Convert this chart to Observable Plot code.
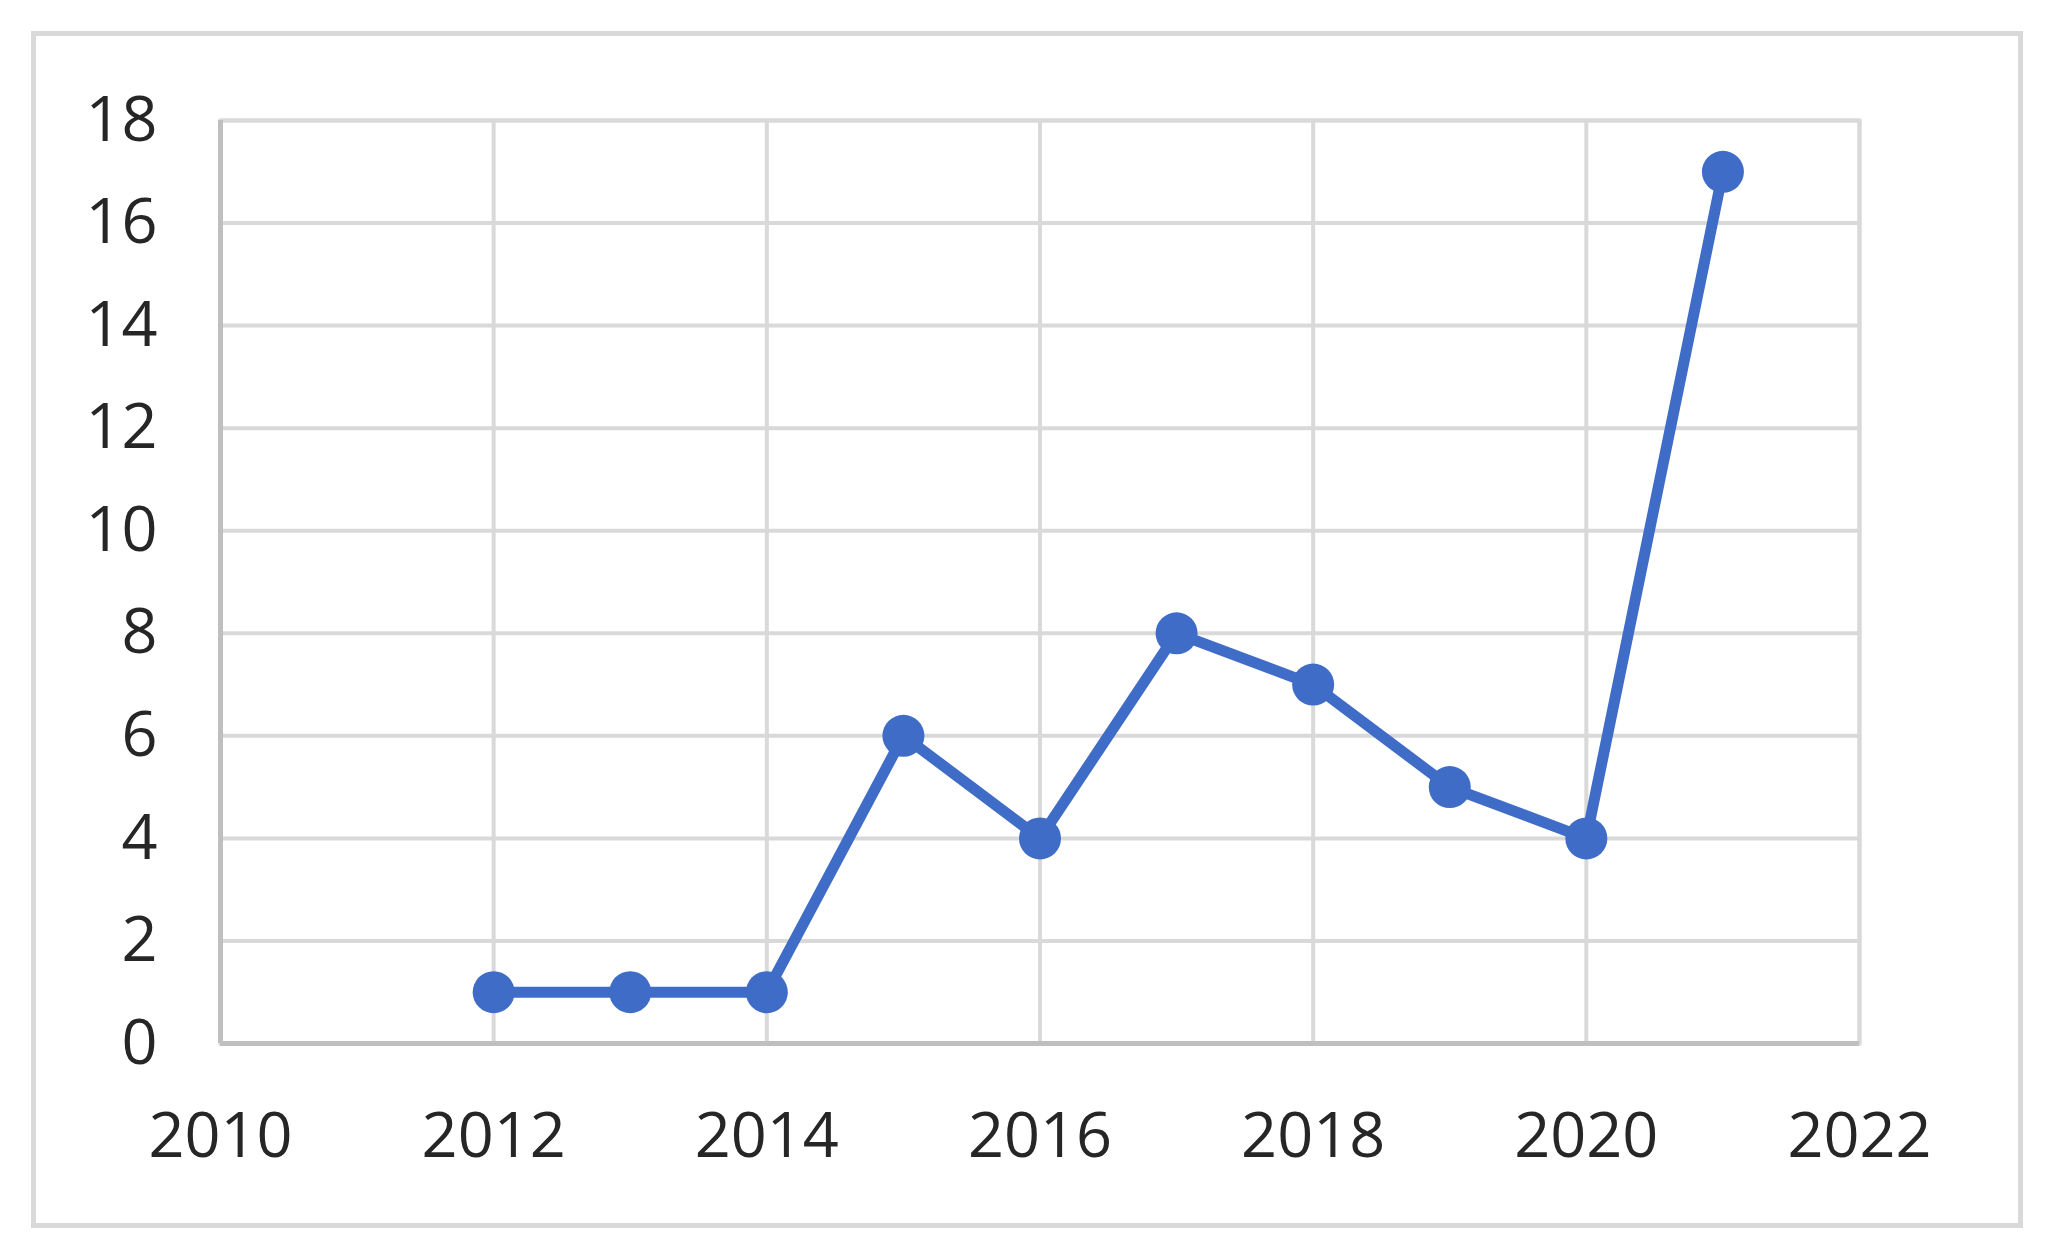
<!DOCTYPE html>
<html>
<head>
<meta charset="utf-8">
<script src="https://cdn.jsdelivr.net/npm/d3@7"></script>
<script src="https://cdn.jsdelivr.net/npm/@observablehq/plot@0.6"></script>
<style>
  html, body { margin: 0; padding: 0; background: #fff; }
  #wrap { position: relative; width: 2050px; height: 1253px; overflow: hidden; }
  #border { position: absolute; left: 31px; top: 31px; width: 1982px; height: 1187px; border: 5px solid #d9d9d9; box-sizing: content-box; }
  #chart { position: absolute; left: 0; top: 0; }
</style>
</head>
<body>
<div id="wrap">
  <div id="border"></div>
  <div id="chart"></div>
</div>
<script>
const years = [2012, 2013, 2014, 2015, 2016, 2017, 2018, 2019, 2020, 2021];
const counts = [1, 1, 1, 6, 4, 8, 7, 5, 4, 17];
const xTicks = [2010, 2012, 2014, 2016, 2018, 2020, 2022];
const yTicks = [0, 2, 4, 6, 8, 10, 12, 14, 16, 18];

const data = years.map((year, i) => ({year, count: counts[i]}));
const blue = "#3f6cc6";

const chart = Plot.plot({
  width: 2050,
  height: 1253,
  marginLeft: 220,
  marginRight: 191,
  marginTop: 120,
  marginBottom: 210,
  style: {fontFamily: "'Open Sans', sans-serif", fontSize: "63px", color: "#262626", background: "transparent"},
  x: {domain: [2010, 2022], label: null},
  y: {domain: [0, 18], label: null},
  marks: [
    Plot.gridX(xTicks, {stroke: "#d9d9d9", strokeOpacity: 1, strokeWidth: 4}),
    Plot.gridY(yTicks, {stroke: "#d9d9d9", strokeOpacity: 1, strokeWidth: 4}),
    Plot.frame({stroke: "#d9d9d9", strokeWidth: 4}),
    Plot.ruleY([0], {stroke: "#bfbfbf", strokeWidth: 5}),
    Plot.ruleX([2010], {stroke: "#bfbfbf", strokeWidth: 5}),
    Plot.axisX(xTicks, {tickSize: 0, tickPadding: 69, tickFormat: d => String(d), fill: "#262626", label: null}),
    Plot.axisY(yTicks, {tickSize: 0, tickPadding: 63, tickFormat: d => String(d), fill: "#262626", label: null}),
    Plot.line(data, {x: "year", y: "count", stroke: blue, strokeWidth: 11, strokeLinejoin: "round"}),
    Plot.dot(data, {x: "year", y: "count", r: 21, fill: blue, stroke: "none"})
  ]
});
document.getElementById("chart").appendChild(chart);
</script>
</body>
</html>
